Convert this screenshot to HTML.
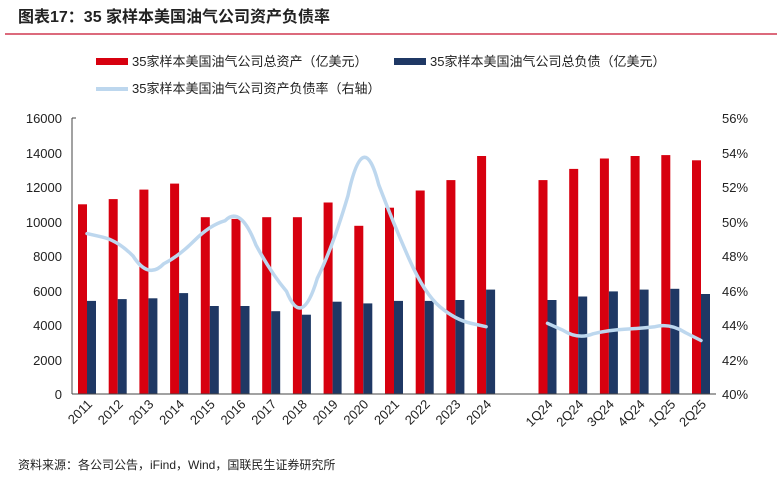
<!DOCTYPE html>
<html><head><meta charset="utf-8"><style>
body{margin:0;background:#fff;}
svg{display:block;font-family:"Liberation Sans","Noto Sans CJK SC",sans-serif;}
</style></head><body>
<svg width="777" height="478" viewBox="0 0 777 478">
<text x="18" y="22" font-size="16" font-weight="bold" fill="#222">图表17：35 家样本美国油气公司资产负债率</text>
<line x1="5" y1="34" x2="777" y2="34" stroke="#c8102e" stroke-width="1.2"/>
<rect x="96" y="58" width="32" height="7" fill="#d7000f"/>
<text x="132" y="66" font-size="13" fill="#222">35家样本美国油气公司总资产（亿美元）</text>
<rect x="394" y="58" width="32" height="7" fill="#1f3864"/>
<text x="430" y="66" font-size="13" fill="#222">35家样本美国油气公司总负债（亿美元）</text>
<line x1="96" y1="89" x2="128" y2="89" stroke="#bdd7ee" stroke-width="4"/>
<text x="132" y="93" font-size="13" fill="#222">35家样本美国油气公司资产负债率（右轴）</text>
<g font-size="13" fill="#222" text-anchor="end">
<text x="62" y="123">16000</text><text x="62" y="158">14000</text><text x="62" y="192">12000</text><text x="62" y="227">10000</text><text x="62" y="261">8000</text><text x="62" y="296">6000</text><text x="62" y="330">4000</text><text x="62" y="365">2000</text><text x="62" y="399">0</text>
</g>
<g font-size="13" fill="#222">
<text x="722" y="123">56%</text><text x="722" y="158">54%</text><text x="722" y="192">52%</text><text x="722" y="227">50%</text><text x="722" y="261">48%</text><text x="722" y="296">46%</text><text x="722" y="330">44%</text><text x="722" y="365">42%</text><text x="722" y="399">40%</text>
</g>
<g fill="#d7000f">
<rect x="78" y="204.3" width="9" height="189.7"/>
<rect x="108.7" y="199.1" width="9" height="194.9"/>
<rect x="139.4" y="189.6" width="9" height="204.4"/>
<rect x="170.1" y="183.6" width="9" height="210.4"/>
<rect x="200.8" y="217.2" width="9" height="176.8"/>
<rect x="231.5" y="218.9" width="9" height="175.1"/>
<rect x="262.2" y="217.2" width="9" height="176.8"/>
<rect x="292.9" y="217.2" width="9" height="176.8"/>
<rect x="323.6" y="202.5" width="9" height="191.5"/>
<rect x="354.3" y="225.8" width="9" height="168.2"/>
<rect x="385" y="207.7" width="9" height="186.3"/>
<rect x="415.7" y="190.5" width="9" height="203.5"/>
<rect x="446.4" y="180.1" width="9" height="213.9"/>
<rect x="477.1" y="156" width="9" height="238"/>
<rect x="538.5" y="180.1" width="9" height="213.9"/>
<rect x="569.2" y="168.9" width="9" height="225.1"/>
<rect x="599.9" y="158.5" width="9" height="235.5"/>
<rect x="630.6" y="156" width="9" height="238"/>
<rect x="661.3" y="155.1" width="9" height="238.9"/>
<rect x="692" y="160.3" width="9" height="233.7"/>
</g>
<g fill="#1f3864">
<rect x="87" y="300.9" width="9" height="93.1"/>
<rect x="117.7" y="299.1" width="9" height="94.9"/>
<rect x="148.4" y="298.3" width="9" height="95.7"/>
<rect x="179.1" y="293.1" width="9" height="100.9"/>
<rect x="209.8" y="306" width="9" height="88"/>
<rect x="240.5" y="306" width="9" height="88"/>
<rect x="271.2" y="311.2" width="9" height="82.8"/>
<rect x="301.9" y="314.7" width="9" height="79.3"/>
<rect x="332.6" y="301.7" width="9" height="92.3"/>
<rect x="363.3" y="303.4" width="9" height="90.6"/>
<rect x="394" y="300.9" width="9" height="93.1"/>
<rect x="424.7" y="300.9" width="9" height="93.1"/>
<rect x="455.4" y="300" width="9" height="94"/>
<rect x="486.1" y="289.6" width="9" height="104.4"/>
<rect x="547.5" y="300" width="9" height="94"/>
<rect x="578.2" y="296.5" width="9" height="97.5"/>
<rect x="608.9" y="291.4" width="9" height="102.6"/>
<rect x="639.6" y="289.6" width="9" height="104.4"/>
<rect x="670.3" y="288.8" width="9" height="105.2"/>
<rect x="701" y="294" width="9" height="100"/>
</g>
<line x1="72" y1="118" x2="72" y2="394" stroke="#444"/>
<line x1="72" y1="118" x2="76" y2="118" stroke="#444"/>
<line x1="72" y1="394" x2="716" y2="394" stroke="#444"/>
<g fill="none" stroke="#bdd7ee" stroke-width="3.5" stroke-linejoin="round" stroke-linecap="round">
<path d="M87,233.6 L102.35,237.05 Q117.7,240.5 133.05,256 Q148.4,280 163.75,263.75 Q179.1,256 194.45,240.5 Q209.8,225 225.15,220.65 Q240.5,205 255.85,244.8 Q271.2,273.3 286.55,291.4 Q301.9,330 317.25,278.45 Q332.6,247.4 347.95,195.7 Q363.3,125 378.65,184.5 Q394,225 409.35,259.5 Q424.7,294 440.05,306.9 Q455.4,319.8 470.75,323.25 L486.1,326.7"/>
<path d="M547.5,323.3 L562.85,330.2 Q578.2,340 593.55,333.65 Q608.9,330.2 624.25,329.3 Q639.6,328.45 654.95,326.7 Q670.3,323 685.65,332.75 L701,340.5"/>
</g>
<g font-size="13" fill="#222" text-anchor="end">
<text x="93" y="405" transform="rotate(-45 93 405)">2011</text>
<text x="123.7" y="405" transform="rotate(-45 123.7 405)">2012</text>
<text x="154.4" y="405" transform="rotate(-45 154.4 405)">2013</text>
<text x="185.1" y="405" transform="rotate(-45 185.1 405)">2014</text>
<text x="215.8" y="405" transform="rotate(-45 215.8 405)">2015</text>
<text x="246.5" y="405" transform="rotate(-45 246.5 405)">2016</text>
<text x="277.2" y="405" transform="rotate(-45 277.2 405)">2017</text>
<text x="307.9" y="405" transform="rotate(-45 307.9 405)">2018</text>
<text x="338.6" y="405" transform="rotate(-45 338.6 405)">2019</text>
<text x="369.3" y="405" transform="rotate(-45 369.3 405)">2020</text>
<text x="400" y="405" transform="rotate(-45 400 405)">2021</text>
<text x="430.7" y="405" transform="rotate(-45 430.7 405)">2022</text>
<text x="461.4" y="405" transform="rotate(-45 461.4 405)">2023</text>
<text x="492.1" y="405" transform="rotate(-45 492.1 405)">2024</text>
<text x="553.5" y="405" transform="rotate(-45 553.5 405)">1Q24</text>
<text x="584.2" y="405" transform="rotate(-45 584.2 405)">2Q24</text>
<text x="614.9" y="405" transform="rotate(-45 614.9 405)">3Q24</text>
<text x="645.6" y="405" transform="rotate(-45 645.6 405)">4Q24</text>
<text x="676.3" y="405" transform="rotate(-45 676.3 405)">1Q25</text>
<text x="707" y="405" transform="rotate(-45 707 405)">2Q25</text>
</g>
<text x="18" y="469" font-size="12" fill="#222">资料来源：各公司公告，iFind，Wind，国联民生证券研究所</text>
</svg>
</body></html>
